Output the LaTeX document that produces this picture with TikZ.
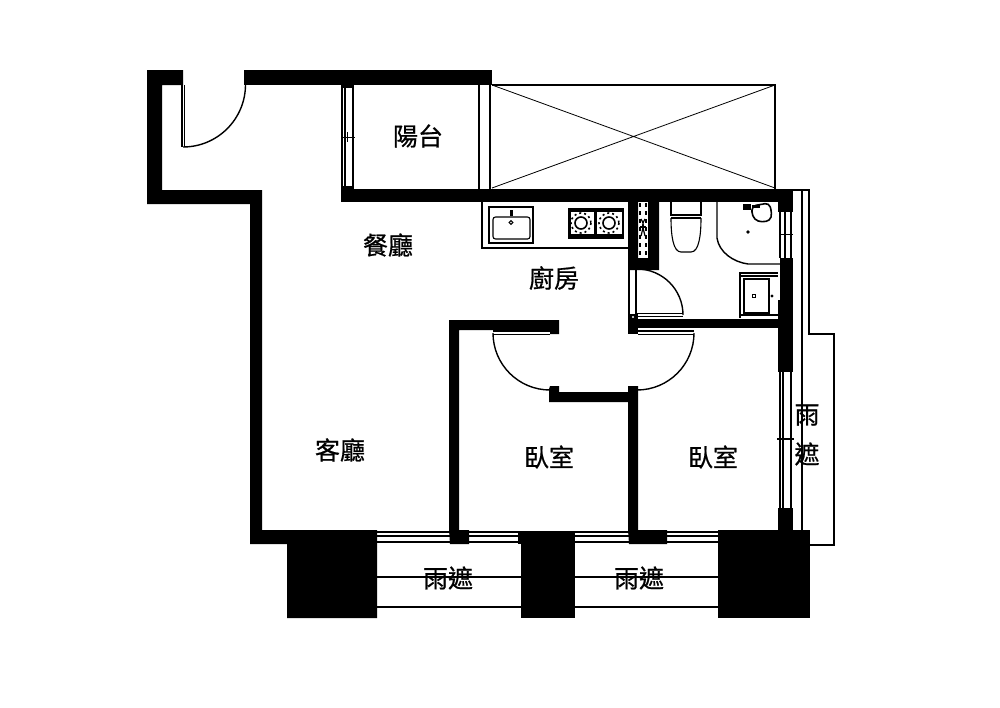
\documentclass[tikz,border=0pt]{standalone}
\usepackage{fontspec}
\newfontfamily\cjk[FakeBold=0.7]{Noto Sans CJK TC}
\tikzset{
  wallfill/.style={fill=black,draw=none},
  thin line/.style={draw=black,line width=1.1pt},
  hair/.style={draw=black,line width=0.8pt},
  arcline/.style={draw=black,line width=1.4pt},
  room/.style={font=\cjk\fontsize{25}{25}\selectfont,inner sep=0pt,text=black}
}
\begin{document}
\begin{tikzpicture}[x=1pt,y=-1pt]
\useasboundingbox (0,0) rectangle (1000,707);
\fill[white] (0,0) rectangle (1000,707);
% balcony box
\draw[thin line] (492,85) -- (775,85) -- (775,189);
\draw[hair] (492,85) -- (775,188) (492,188) -- (775,85);
\draw[thin line] (479,85) -- (479,189) (490,85) -- (490,189);
% balcony window
\draw[thin line] (342,85) -- (342,189) (345,85) -- (345,189) (353,85) -- (353,189);
\draw[hair] (342,137) -- (355,137) (347.5,132) -- (347.5,142);
% rain shield right
\draw[thin line] (793,190) -- (809,190) -- (809,334) -- (834,334) -- (834,545) -- (810,545);
\draw[thin line] (802,190) -- (802,530);
% bath window
\draw[thin line] (780,212) -- (780,258) (791,212) -- (791,258) (785,212) -- (785,258);
\draw[hair] (780,234) -- (793,234);
% right window
\draw[thin line] (780,372) -- (780,508) (791,372) -- (791,508) (783,372) -- (783,508);
\draw[thin line] (777,439) -- (794,439);
% south rain shield lines
\draw[thin line] (377,577) -- (718,577) (377,607) -- (718,607);
% south windows
\foreach \a/\b in {377/450,469/519,575/629,667/718}{
  \draw[thin line] (\a,532) -- (\b,532) (\a,536) -- (\b,536) (\a,542) -- (\b,542);
}
% walls
\fill[wallfill] (147,70) -- (183,70) -- (183,85) -- (162,85) -- (162,190) -- (262,190) -- (262,530) -- (377,530) -- (377,618) -- (287,618) -- (287,544) -- (250,544) -- (250,204) -- (147,204) -- cycle;
\fill[wallfill] (244,70) rectangle (492,85);
\fill[wallfill] (341,85) rectangle (354,88);
\fill[wallfill] (341,189) rectangle (793,202);
\fill[wallfill] (341,186) rectangle (354,189);
\fill[wallfill] (778,202) rectangle (793,212);
\fill[wallfill] (780,258) rectangle (793,300);
\fill[wallfill] (778,300) rectangle (793,372);
\fill[wallfill] (628,202) -- (638,202) -- (638,258) -- (648,258) -- (648,202) -- (659,202) -- (659,270) -- (628,270) -- cycle;
\fill[wallfill] (638,319) rectangle (780,328);
\fill[wallfill] (628,314) rectangle (638,334);
\fill[white] (633,317) circle (1.2);
% bedroom walls
\fill[wallfill] (449,320) -- (559,320) -- (559,334) -- (550,334) -- (550,330) -- (459,330) -- (459,530) -- (469,530) -- (469,544) -- (450,544) -- (449,530) -- cycle;
\fill[wallfill] (550,386) -- (559,386) -- (559,392) -- (628,392) -- (628,386) -- (638,386) -- (638,530) -- (667,530) -- (667,544) -- (629,544) -- (628,530) -- (628,402) -- (549,402) -- (549,389) -- cycle;
% blocks
\fill[wallfill] (518,531) rectangle (575,544);
\fill[wallfill] (521,544) rectangle (575,618);
\fill[wallfill] (718,530) rectangle (810,544);
\fill[wallfill] (718,544) rectangle (810,618);
\fill[wallfill] (778,508) rectangle (793,530);
% entrance door
\draw[thin line] (182,85) -- (182,147) (184.5,85) -- (184.5,147);
\draw[arcline] (183,147) arc[start angle=90,end angle=0,radius=62.5];
% bath door
\draw[thin line] (629,270) -- (629,314) (636,270) -- (636,314);
\draw[thin line] (637,313.5) -- (683,313.5) (637,316.5) -- (683,316.5);
\draw[arcline] (683,315) arc[start angle=0,end angle=-90,radius=46];
% bedroom doors
\draw[thin line] (493,331) -- (550,331) (493,334.5) -- (550,334.5);
\draw[arcline] (493,333) arc[start angle=180,end angle=90,radius=57];
\draw[thin line] (638,331) -- (694,331) (638,334.5) -- (694,334.5);
\draw[arcline] (694,333) arc[start angle=0,end angle=90,radius=57];
% kitchen counter
\draw[thin line] (482,202) -- (482,248) -- (628,248);
\draw[thin line] (489,207) rectangle (533,243);
\draw[thin line,rounded corners=2.5pt] (493,217) rectangle (530,239);
\draw[thin line] (511,222.5) circle (1.8);
\fill[black] (509.5,210) rectangle (512.5,216);
% stove
\fill[black] (568,208) rectangle (624,239);
\fill[white] (570.5,212) rectangle (593.5,234);
\fill[white] (597,212) rectangle (622,234);
\foreach \c in {581,609}{
  \draw[black,line width=1.6pt] (\c,223) circle (6);
  \draw[black,line width=1.6pt,dash pattern=on 2pt off 3pt] (\c,223) circle (10);
}
% closet symbols
\draw[black,line width=1.2pt,dash pattern=on 4pt off 4pt] (640,203) -- (640,257) (646,203) -- (646,257);
\draw[black,line width=1.2pt] (641,219) .. controls (644,224) .. (641,236) (645,219) .. controls (642,224) .. (645,236);
\draw[black,line width=1.2pt] (640,227) -- (646,227);
% toilet
\draw[thin line] (671,202) -- (671,215) -- (701,215) -- (701,202);
\draw[thin line] (671,218) -- (701,218);
\draw[thin line] (671,218) .. controls (671,235) and (673,252) .. (681,252) -- (691,252) .. controls (699,252) and (701,235) .. (701,218);
% shower
\draw[arcline] (717,202) -- (717,238) .. controls (719,252) and (733,262) .. (748,264) -- (780,264);
% bath basin
\draw[black,line width=1.6pt,rounded corners=4pt] (752,206) -- (769,203) -- (772,213) -- (770,221) -- (758,222) -- (752,216) -- cycle;
\fill[black] (743,204) rectangle (751,210);
\fill[black] (752,205) rectangle (760,208);
\fill[black] (748,232) circle (1.8);
% vanity
\draw[thin line] (740,318) -- (740,273) -- (778,273);
\draw[thin line] (740,276) -- (778,276);
\draw[thin line] (744,279) rectangle (769,313);
\draw[thin line] (740,315) -- (778,315);
\draw[thin line] (752.5,294.5) rectangle (755.5,297.5);
\fill[black] (772,296) circle (1.6);
% labels
\node[room] (balcony) at (418,136) {陽台};
\node[room] (dining) at (388,245) {餐廳};
\node[room] (kitchen) at (554,278) {廚房};
\node[room] (living) at (340,450) {客廳};
\node[room] (bed1) at (549,457) {臥室};
\node[room] (bed2) at (713,457) {臥室};
\node[room] (rainA) at (807,415) {雨};
\node[room] (rainB) at (807,454) {遮};
\node[room] (rainC) at (448,578) {雨遮};
\node[room] (rainD) at (639,578) {雨遮};
\end{tikzpicture}
\end{document}
